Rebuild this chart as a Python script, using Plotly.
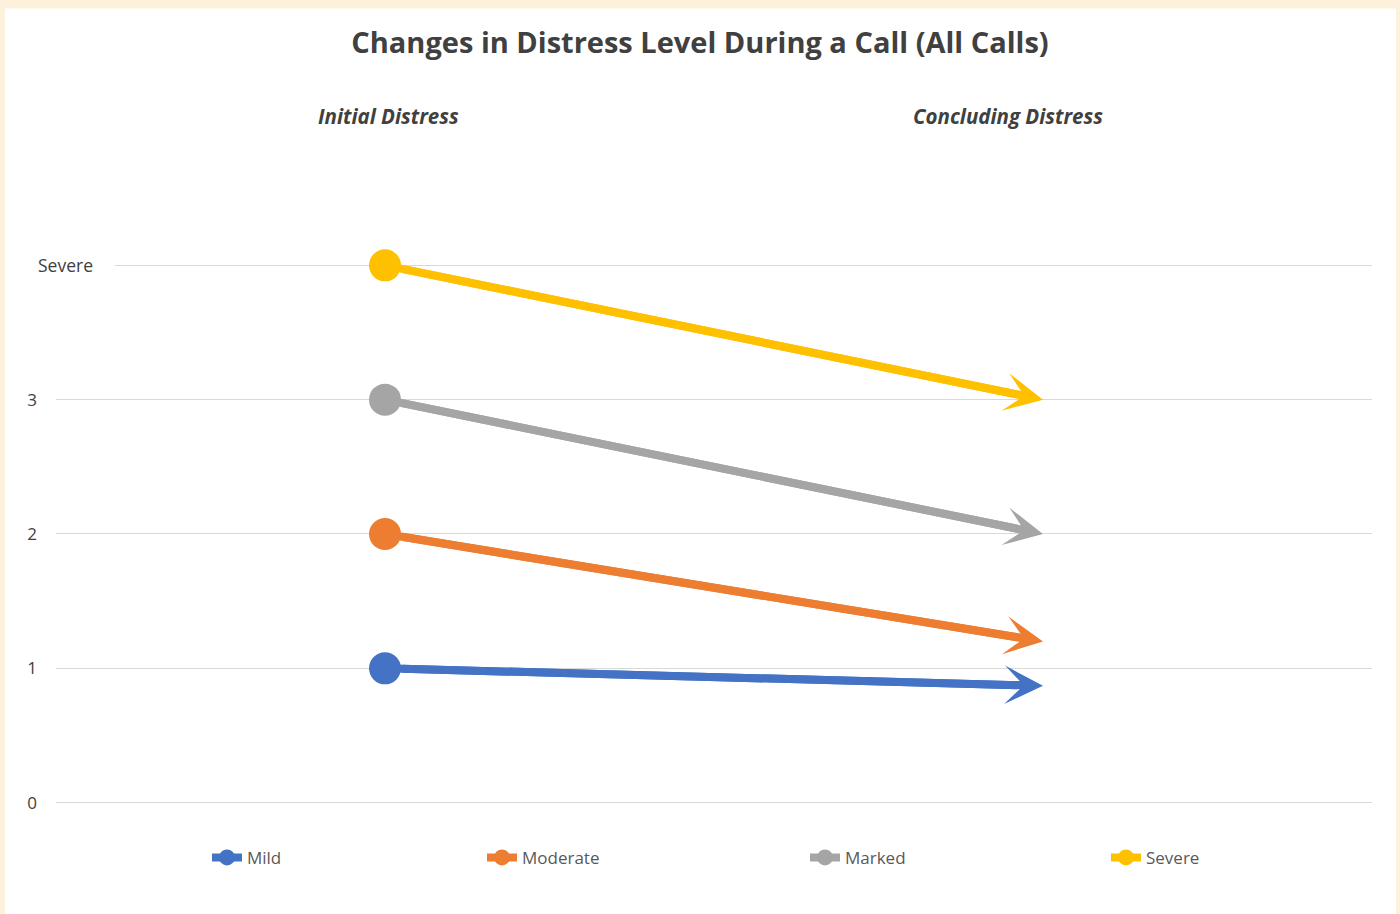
import plotly.graph_objects as go

# ---- data ----
categories = ["Initial Distress", "Concluding Distress"]
series_names = ["Mild", "Moderate", "Marked", "Severe"]
initial_values = [1.0, 2.0, 3.0, 4.0]
concluding_values = [0.87, 1.2, 2.0, 3.0]
colors = ["#4472C4", "#ED7D31", "#A5A5A5", "#FFC000"]
y_tick_vals = [0, 1, 2, 3, 4, 5]
y_tick_text = ["0", "1", "2", "3", "", ""]
top_label = "Severe"

LINE_W = 8
legend_text_x = [250, 525, 848, 1149]   # pixel positions of legend entries

fig = go.Figure()
annotations = []
for i, (name, v0, v1, c) in enumerate(zip(series_names, initial_values, concluding_values, colors)):
    fig.add_trace(go.Scatter(
        x=categories, y=[v0, v1], name=name, mode="lines+markers",
        line=dict(color=c, width=LINE_W, backoff=14),
        marker=dict(color=c, size=[32, 0], opacity=1, line=dict(width=0)),
        hoverinfo="skip", legend="legend" if i == 0 else f"legend{i + 1}",
    ))
    annotations.append(dict(
        x=categories[1], y=v1, ax=categories[0], ay=v0,
        xref="x", yref="y", axref="x", ayref="y",
        text="", showarrow=True, arrowhead=3, arrowsize=0.8,
        arrowwidth=LINE_W, arrowcolor=c, standoff=0, startstandoff=16,
    ))

hdr_font = dict(family="Open Sans", size=20.5, color="#404040")
annotations.append(dict(x=categories[0], xref="x", xshift=3, y=1.0216, yref="paper",
                        text="<b><i>Initial Distress</i></b>", showarrow=False, font=hdr_font,
                        xanchor="center", yanchor="middle"))
annotations.append(dict(x=categories[1], xref="x", xshift=-35, y=1.0216, yref="paper",
                        text="<b><i>Concluding Distress</i></b>", showarrow=False, font=hdr_font,
                        xanchor="center", yanchor="middle"))
annotations.append(dict(x=0, xref="paper", xshift=9, y=4, yref="y", text=top_label,
                        showarrow=False, font=dict(family="Open Sans", size=17.5, color="#404040"),
                        xanchor="center", yanchor="middle"))

shapes = [
    dict(type="rect", xref="paper", yref="paper", x0=-0.0388, x1=1.0182, y0=-0.3, y1=1.182,
         fillcolor="white", line=dict(width=0), layer="below"),
    dict(type="line", xref="paper", yref="y", x0=0, x1=0.0448, y0=4, y1=4,
         line=dict(color="white", width=3), layer="above"),
]

PLOT_L, PLOT_W = 56, 1316
legend_common = dict(orientation="h", xanchor="left", y=-0.08, yanchor="middle",
                     font=dict(family="Open Sans", size=17, color="#595959"),
                     bgcolor="rgba(0,0,0,0)", borderwidth=0)
legends = {}
for i, tx in enumerate(legend_text_x):
    key = "legend" if i == 0 else f"legend{i + 1}"
    legends[key] = dict(legend_common, x=(tx - 43 - PLOT_L) / PLOT_W)

fig.update_layout(
    width=1400, height=914,
    margin=dict(l=PLOT_L, r=28, t=130.5, b=109.7),
    paper_bgcolor="#FCF1DA", plot_bgcolor="white",
    title=dict(text="<b>Changes in Distress Level During a Call (All Calls)</b>",
               x=0.5, xanchor="center", y=1 - 43 / 914, yanchor="middle", yref="container",
               font=dict(family="Open Sans", size=29, color="#404040")),
    xaxis=dict(type="category", range=[-0.5, 1.5], showgrid=False, showticklabels=False,
               zeroline=False, showline=False, fixedrange=True),
    yaxis=dict(range=[-0.01, 5], tickvals=y_tick_vals, ticktext=y_tick_text, showgrid=True,
               gridcolor="#D9D9D9", gridwidth=1, zeroline=False, showline=False,
               ticks="", ticklabelstandoff=18,
               tickfont=dict(family="Open Sans", size=17, color="#404040")),
    showlegend=True,
    annotations=annotations, shapes=shapes,
    **legends,
)

fig.write_html("out.html", config={"displayModeBar": False},
               post_script="document.body.style.margin='0';")
